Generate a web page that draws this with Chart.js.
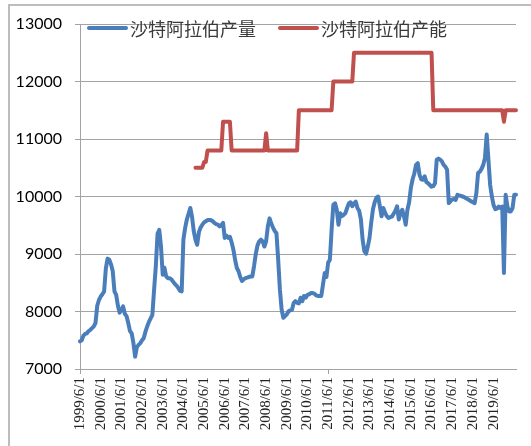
<!DOCTYPE html>
<html>
<head>
<meta charset="utf-8">
<script src="https://cdn.jsdelivr.net/npm/chart.js@4.4.1/dist/chart.umd.min.js"></script>
<style>
  html, body { margin: 0; padding: 0; background: #fff; overflow: hidden; }
  #wrap { position: absolute; left: 0; top: 0; width: 531px; height: 446px; }
  #frame { position: absolute; left: 8px; top: 4px; width: 600px; height: 600px; border: 2px solid #bdbdbd; pointer-events: none; }
</style>
</head>
<body>
<div id="wrap"><canvas id="chart"></canvas></div>
<div id="frame"></div>
<script>
// monthly categories, 1999/6/1 onwards
const startYear = 1999;
const startMonth = 6;
const monthCount = 254;
const months = [];
for (let i = 0; i < monthCount; i++) {
    const m = startMonth - 1 + i;
    months.push((startYear + Math.floor(m / 12)) + '/' + (m % 12 + 1) + '/1');
}

// labels shown on the x axis
const yearTicks = [
    '1999/6/1', '2000/6/1', '2001/6/1', '2002/6/1', '2003/6/1', '2004/6/1',
    '2005/6/1', '2006/6/1', '2007/6/1', '2008/6/1', '2009/6/1', '2010/6/1',
    '2011/6/1', '2012/6/1', '2013/6/1', '2014/6/1', '2015/6/1', '2016/6/1',
    '2017/6/1', '2018/6/1', '2019/6/1'
];

const seriesNames = ['沙特阿拉伯产量', '沙特阿拉伯产能'];

// production (kb/d)
const production = [
    7480, 7500, 7580, 7610, 7620, 7660, 7680, 7710, 7740, 7800,
    8100, 8200, 8260, 8300, 8350, 8750, 8920, 8900, 8820, 8700,
    8350, 8290, 8100, 7980, 8030, 8090, 7960, 7920, 7800, 7660,
    7620, 7450, 7215, 7380, 7420, 7450, 7500, 7540, 7650, 7740,
    7820, 7880, 7940, 8380, 8790, 9350, 9420, 9130, 8640,
    8760, 8610, 8580, 8580, 8560, 8520, 8480, 8450, 8410, 8360, 8350,
    9250, 9450, 9600, 9700, 9800, 9650, 9400, 9250, 9160, 9380,
    9460, 9510, 9550, 9570, 9590, 9590,
    9590, 9570, 9540, 9520, 9510,
    9480, 9500, 9540, 9280, 9320, 9280, 9300, 9200, 9075, 8900,
    8760, 8700, 8600, 8530, 8560, 8580, 8590, 8600,
    8610, 8610,
    8790, 9000, 9150, 9220, 9250, 9220, 9130, 9220, 9480, 9620,
    9530, 9460, 9400, 9360, 8900, 8380, 8035, 7890, 7920, 7950,
    8005, 8020, 8030, 8150, 8180, 8150, 8140, 8240, 8180, 8270,
    8240, 8290, 8300, 8320, 8320, 8310, 8280, 8270, 8270, 8270,
    8470, 8670, 8600, 8850, 8900, 9420, 9855,
    9880, 9770, 9510,
    9710, 9660, 9680, 9710, 9800, 9880, 9900, 9830, 9880, 9910,
    9800, 9750, 9600, 9250, 9050, 9005, 9130, 9280, 9550, 9780,
    9900, 9980, 10000, 9830, 9655, 9800, 9720, 9660, 9625, 9640,
    9650,
    9700, 9750, 9830, 9600, 9710, 9770, 9655, 9510, 9770, 9900,
    10150, 10300, 10400, 10550, 10580, 10380,
    10300, 10290, 10350, 10250,
    10230, 10200, 10170, 10180, 10230, 10640, 10660, 10640, 10610, 10550,
    10520, 10465, 9885, 9920, 9950, 9955, 9940, 10030, 10020, 10010,
    10000, 9990, 9970, 9955, 9935, 9915, 9900, 9885, 10060, 10410,
    10430, 10480, 10550, 10670, 11080, 10640, 10200, 10000, 9850, 9780,
    9790, 9825, 9800, 9825, 8670, 10030, 9830, 9740, 9740, 9800,
    10030, 10030
];

// capacity (kb/d), no data before 2005
const capacity = [
    null, null, null, null, null, null, null, null, null, null,
    null, null, null, null, null, null, null, null, null, null,
    null, null, null, null, null, null, null, null, null, null,
    null, null, null, null, null, null, null, null, null, null,
    null, null, null, null, null, null, null, null, null, null,
    null, null, null, null, null, null, null, null, null, null,
    null, null, null, null, null, null, null,
    10500, 10500, 10500, 10500, 10500, 10600, 10600,
    10800, 10800, 10800, 10800, 10800, 10800, 10800, 10800, 10800,
    11300, 11300, 11300, 11300, 11300,
    10800, 10800, 10800, 10800, 10800, 10800, 10800, 10800, 10800, 10800,
    10800, 10800, 10800, 10800, 10800, 10800, 10800, 10800, 10800, 10800,
    11100,
    10800, 10800, 10800, 10800, 10800, 10800, 10800, 10800, 10800,
    10800, 10800, 10800, 10800, 10800, 10800, 10800, 10800, 10800,
    11500, 11500, 11500, 11500, 11500, 11500, 11500, 11500, 11500, 11500,
    11500, 11500, 11500, 11500, 11500, 11500, 11500, 11500, 11500, 11500,
    12000, 12000, 12000, 12000, 12000, 12000, 12000, 12000, 12000, 12000,
    12000, 12000,
    12500, 12500, 12500, 12500, 12500, 12500, 12500, 12500, 12500, 12500,
    12500, 12500, 12500, 12500, 12500, 12500, 12500, 12500, 12500, 12500,
    12500, 12500, 12500, 12500, 12500, 12500, 12500, 12500, 12500, 12500,
    12500, 12500, 12500, 12500, 12500, 12500, 12500, 12500, 12500, 12500,
    12500, 12500, 12500, 12500, 12500, 12500,
    11500, 11500, 11500, 11500, 11500, 11500, 11500, 11500, 11500, 11500,
    11500, 11500, 11500, 11500, 11500, 11500, 11500, 11500, 11500, 11500,
    11500, 11500, 11500, 11500, 11500, 11500, 11500, 11500, 11500, 11500,
    11500, 11500, 11500, 11500, 11500, 11500, 11500, 11500, 11500, 11500,
    11500,
    11300,
    11500, 11500, 11500, 11500, 11500, 11500, 11500
];

const yMin = 7000;
const yMax = 13000;
const yStep = 1000;

const gridColor = '#a3a3a3';

function isYearTick(index) {
    return yearTicks.indexOf(months[index]) !== -1;
}

// legend drawn inside the plot, over the top gridline
const insideLegend = {
    id: 'insideLegend',
    afterDraw(chart) {
        const ctx = chart.ctx;
        let x = chart.chartArea.left + 9;
        const y = chart.chartArea.top + 4;
        ctx.save();
        ctx.font = '18px "Noto Sans CJK SC"';
        ctx.textBaseline = 'middle';
        ctx.textAlign = 'left';
        chart.data.datasets.forEach(ds => {
            ctx.strokeStyle = ds.borderColor;
            ctx.lineWidth = 4;
            ctx.lineCap = 'round';
            ctx.beginPath();
            ctx.moveTo(x, y);
            ctx.lineTo(x + 37, y);
            ctx.stroke();
            ctx.fillStyle = '#3a3a3a';
            ctx.fillText(ds.label, x + 41, y + 1);
            x += 41 + ctx.measureText(ds.label).width + 24;
        });
        ctx.restore();
    }
};

const data = {
    labels: months,
    datasets: [{
        label: seriesNames[0],
        data: production,
        borderColor: '#4a7ebb',
        backgroundColor: '#4a7ebb',
        borderWidth: 4,
        pointRadius: 0,
        borderJoinStyle: 'round',
        borderCapStyle: 'round',
        tension: 0
    }, {
        label: seriesNames[1],
        data: capacity,
        borderColor: '#c0504d',
        backgroundColor: '#c0504d',
        borderWidth: 4,
        pointRadius: 0,
        borderJoinStyle: 'round',
        borderCapStyle: 'round',
        tension: 0
    }]
};

const config = {
    type: 'line',
    data: data,
    plugins: [insideLegend],
    options: {
        responsive: true,
        maintainAspectRatio: false,
        animation: false,
        layout: { padding: { left: 0, top: 24, right: 15, bottom: 0 } },
        plugins: {
            legend: { display: false },
            tooltip: { enabled: false }
        },
        scales: {
            x: {
                type: 'category',
                offset: false,
                grid: {
                    display: true,
                    drawOnChartArea: false,
                    drawTicks: true,
                    tickLength: 5,
                    color: ctx => (isYearTick(ctx.index) ? gridColor : 'rgba(0,0,0,0)')
                },
                border: { display: true, color: gridColor, width: 1 },
                ticks: {
                    autoSkip: false,
                    minRotation: 90,
                    maxRotation: 90,
                    padding: 3,
                    color: '#222',
                    font: { family: 'Liberation Serif', size: 15 },
                    callback: function (value, index) {
                        return isYearTick(index) ? this.getLabelForValue(value) : null;
                    }
                },
                afterFit: scale => { scale.height = 77; }
            },
            y: {
                min: yMin,
                max: yMax,
                grid: { color: gridColor, tickLength: 5 },
                border: { display: true, color: gridColor, width: 1 },
                ticks: {
                    stepSize: yStep,
                    padding: 13,
                    color: '#000',
                    font: { family: 'Lato', size: 16 },
                    callback: value => String(value)
                },
                afterFit: scale => { scale.width = 80; }
            }
        }
    }
};

const chart = new Chart(document.getElementById('chart'), config);
</script>
</body>
</html>
